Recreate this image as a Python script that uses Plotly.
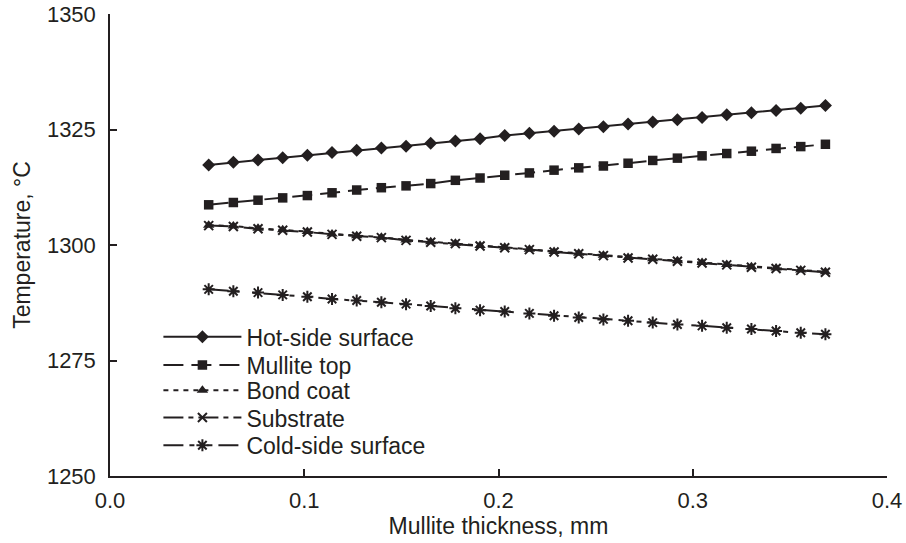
import plotly.graph_objects as go

thickness_mm = [0.0508, 0.0635, 0.0762, 0.0889, 0.1016, 0.1143, 0.1270, 0.1397, 0.1524,
                0.1651, 0.1778, 0.1905, 0.2032, 0.2159, 0.2286, 0.2413, 0.2540, 0.2667,
                0.2794, 0.2921, 0.3048, 0.3175, 0.3302, 0.3429, 0.3556, 0.3683]

hot_side = [1317.3, 1317.9, 1318.4, 1318.9, 1319.4, 1320.0, 1320.5, 1321.0, 1321.4, 1322.0,
            1322.5, 1323.0, 1323.7, 1324.2, 1324.6, 1325.1, 1325.6, 1326.2, 1326.6, 1327.1,
            1327.6, 1328.2, 1328.6, 1329.1, 1329.6, 1330.2]
mullite_top = [1308.7, 1309.2, 1309.7, 1310.2, 1310.7, 1311.3, 1311.9, 1312.4, 1312.8, 1313.3,
               1314.0, 1314.5, 1315.1, 1315.6, 1316.2, 1316.7, 1317.1, 1317.7, 1318.3, 1318.8,
               1319.3, 1319.8, 1320.3, 1320.9, 1321.3, 1321.8]
bond_coat = [1304.3, 1304.1, 1303.6, 1303.3, 1302.9, 1302.4, 1302.0, 1301.7, 1301.1, 1300.7,
             1300.4, 1299.9, 1299.5, 1299.1, 1298.6, 1298.2, 1297.8, 1297.3, 1297.0, 1296.6,
             1296.2, 1295.8, 1295.3, 1295.0, 1294.6, 1294.2]
substrate = [1304.2, 1304.0, 1303.5, 1303.2, 1302.8, 1302.3, 1301.9, 1301.6, 1301.0, 1300.6,
             1300.3, 1299.8, 1299.4, 1299.0, 1298.5, 1298.1, 1297.7, 1297.2, 1296.9, 1296.5,
             1296.1, 1295.7, 1295.2, 1294.9, 1294.5, 1294.1]
cold_side = [1290.4, 1290.0, 1289.7, 1289.2, 1288.8, 1288.3, 1288.0, 1287.6, 1287.2, 1286.8,
             1286.3, 1285.9, 1285.6, 1285.2, 1284.7, 1284.3, 1283.9, 1283.6, 1283.2, 1282.8,
             1282.5, 1282.1, 1281.8, 1281.4, 1281.0, 1280.7]

series_names = ["Hot-side surface", "Mullite top", "Bond coat", "Substrate", "Cold-side surface"]
x_ticks = [0.0, 0.1, 0.2, 0.3, 0.4]
y_ticks = [1250, 1275, 1300, 1325, 1350]

INK = "#231f20"
FONT = "Liberation Sans, Arial, sans-serif"

styles = [
    dict(dash="solid", symbol="diamond", size=10, open=False),
    dict(dash="20px,8px", symbol="square", size=9.5, open=False),
    dict(dash="5px,5px", symbol="triangle-up", size=10, open=False),
    dict(dash="20px,5px,5px,5px", symbol="x-thin-open", size=9, open=True),
    dict(dash="20px,6px,5px,13px,5px,6px", symbol="asterisk-open", size=10, open=True),
]
values = [hot_side, mullite_top, bond_coat, substrate, cold_side]
legend_ids = ["legend", "legend2", "legend3", "legend4", "legend5"]
legend_rows_y = [0.3015, 0.2403, 0.1855, 0.1264, 0.0664]

fig = go.Figure()
for name, ys, st, lid in zip(series_names, values, styles, legend_ids):
    marker = dict(symbol=st["symbol"], size=st["size"], color=INK)
    if st["open"]:
        marker["line"] = dict(color=INK, width=2)
    else:
        marker["line"] = dict(width=0)
    fig.add_trace(go.Scatter(
        x=thickness_mm, y=ys, name=name, mode="lines+markers",
        line=dict(color=INK, width=2, dash=st["dash"]),
        marker=marker, legend=lid,
    ))

legend_common = dict(
    x=0.0623, xanchor="left", yanchor="middle",
    bgcolor="rgba(0,0,0,0)", borderwidth=0,
    font=dict(size=23, family=FONT, color=INK),
    itemwidth=78,
)
legend_layout = {}
for lid, ly in zip(legend_ids, legend_rows_y):
    legend_layout[lid] = dict(legend_common, y=ly)

fig.update_layout(
    width=906, height=543,
    margin=dict(l=110, r=19, t=14, b=67, autoexpand=False),
    paper_bgcolor="white", plot_bgcolor="white",
    font=dict(family=FONT, size=22, color=INK),
    showlegend=True,
    xaxis=dict(
        range=[0, 0.4], tickvals=x_ticks, ticktext=[f"{v:.1f}" for v in x_ticks],
        showline=True, linecolor=INK, linewidth=1.5,
        ticks="inside", ticklen=7, tickwidth=1.5, tickcolor=INK,
        showgrid=False, zeroline=False, automargin=False,
        tickfont=dict(size=22, family=FONT, color=INK),
        ticklabelstandoff=4, ticklabeloverflow="allow",
        title=dict(text="Mullite thickness, mm", font=dict(size=23, family=FONT, color=INK), standoff=6),
    ),
    yaxis=dict(
        range=[1250, 1350], tickvals=y_ticks, ticktext=[str(v) for v in y_ticks],
        showline=True, linecolor=INK, linewidth=1.5,
        ticks="inside", ticklen=7, tickwidth=1.5, tickcolor=INK,
        showgrid=False, zeroline=False, automargin=False,
        tickfont=dict(size=22, family=FONT, color=INK),
        ticklabelstandoff=8, ticklabeloverflow="allow",
        title=dict(text="Temperature, °C", font=dict(size=23, family=FONT, color=INK), standoff=10),
    ),
    **legend_layout,
)

fig.write_html(
    "out.html",
    config={"displayModeBar": False},
    post_script="document.body.style.margin='0px'; document.body.style.overflow='hidden';",
)
